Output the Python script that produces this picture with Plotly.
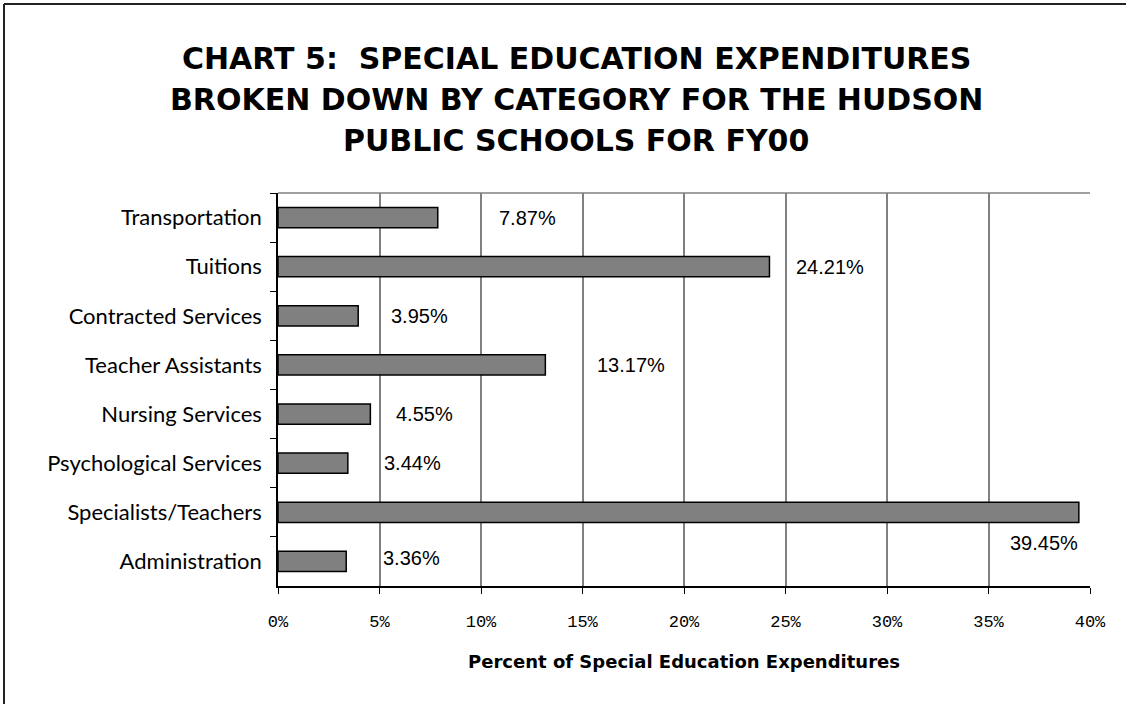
import plotly.graph_objects as go

# Special education spending shares, listed top to bottom
categories = [
    "Transportation",
    "Tuitions",
    "Contracted Services",
    "Teacher Assistants",
    "Nursing Services",
    "Psychological Services",
    "Specialists/Teachers",
    "Administration",
]
percents = [7.87, 24.21, 3.95, 13.17, 4.55, 3.44, 39.45, 3.36]
tick_values = [0, 5, 10, 15, 20, 25, 30, 35, 40]
tick_labels = ["0%", "5%", "10%", "15%", "20%", "25%", "30%", "35%", "40%"]
title_lines = [
    "CHART 5:  SPECIAL EDUCATION EXPENDITURES",
    "BROKEN DOWN BY CATEGORY FOR THE HUDSON",
    "PUBLIC SCHOOLS FOR FY00",
]

# label placement (pixel offsets from the bar end)
label_xshift = [59, 25, 31, 50, 24, 34, 1, 35]
label_yshift = [0, 0, 0, 0, 0, 0, -31, 3]

W, H = 1126, 704
L, R, T, B = 278, 36, 193, 118
pw, ph = W - L - R, H - T - B

fig = go.Figure(
    go.Bar(
        x=percents,
        y=categories,
        orientation="h",
        width=0.41,
        marker=dict(color="#808080", line=dict(color="black", width=1.5)),
        hoverinfo="x+y",
    )
)

for cat, val, dx, dy in zip(categories, percents, label_xshift, label_yshift):
    below = dy < -10
    fig.add_annotation(
        x=val, y=cat, text=f"{val:.2f}%", showarrow=False,
        xanchor="right" if below else "left", yanchor="middle",
        xshift=dx, yshift=dy,
        font=dict(family="Liberation Sans, Arial", size=20, color="black"),
    )

# three-line heading, each line centred on its own row
for i, line in enumerate(title_lines):
    ypix = 59 + 41 * i
    fig.add_annotation(
        xref="paper", yref="paper",
        x=(576 - L) / pw, y=(H - B - ypix) / ph,
        text=f"<b>{line}</b>", showarrow=False,
        xanchor="center", yanchor="middle",
        font=dict(family="DejaVu Sans", size=30, color="black"),
    )

# outer chart frame (left and top edges)
fx0 = (4 - L) / pw
fy1 = 1 + (T - 4) / ph
fig.add_shape(type="line", xref="paper", yref="paper", x0=fx0, x1=fx0,
              y0=-(B + 10) / ph, y1=fy1, line=dict(color="#222", width=2))
fig.add_shape(type="line", xref="paper", yref="paper", x0=fx0, x1=(W + 10 - L) / pw,
              y0=fy1, y1=fy1, line=dict(color="#222", width=2))
# top edge of the plot area
fig.add_shape(type="line", xref="paper", yref="paper", x0=0, x1=1, y0=1, y1=1,
              line=dict(color="#808080", width=1.5))

fig.update_layout(
    width=W, height=H,
    margin=dict(l=L, r=R, t=T, b=B),
    paper_bgcolor="white", plot_bgcolor="white",
    showlegend=False,
    xaxis=dict(
        range=[0, 40], tickvals=tick_values, ticktext=tick_labels,
        showgrid=True, gridcolor="#808080", gridwidth=1.5,
        showline=True, linecolor="black", linewidth=1.5, mirror=False,
        ticks="outside", ticklen=6, tickcolor="black",
        tickfont=dict(family="Liberation Mono, Courier New", size=17, color="black"),
        ticklabelstandoff=13,
        zeroline=False,
        title=dict(text="<b>Percent of Special Education Expenditures</b>",
                   font=dict(family="DejaVu Sans", size=18, color="black"),
                   standoff=24),
    ),
    yaxis=dict(
        autorange="reversed", categoryorder="array", categoryarray=categories,
        showline=True, linecolor="black", linewidth=1.5,
        ticks="outside", ticklen=6, tickcolor="black", tickson="boundaries",
        showgrid=False,
        tickfont=dict(family="Lato, Noto Sans", size=22, color="black"),
        ticklabelstandoff=10,
    ),
)

fig.write_html("out.html")
